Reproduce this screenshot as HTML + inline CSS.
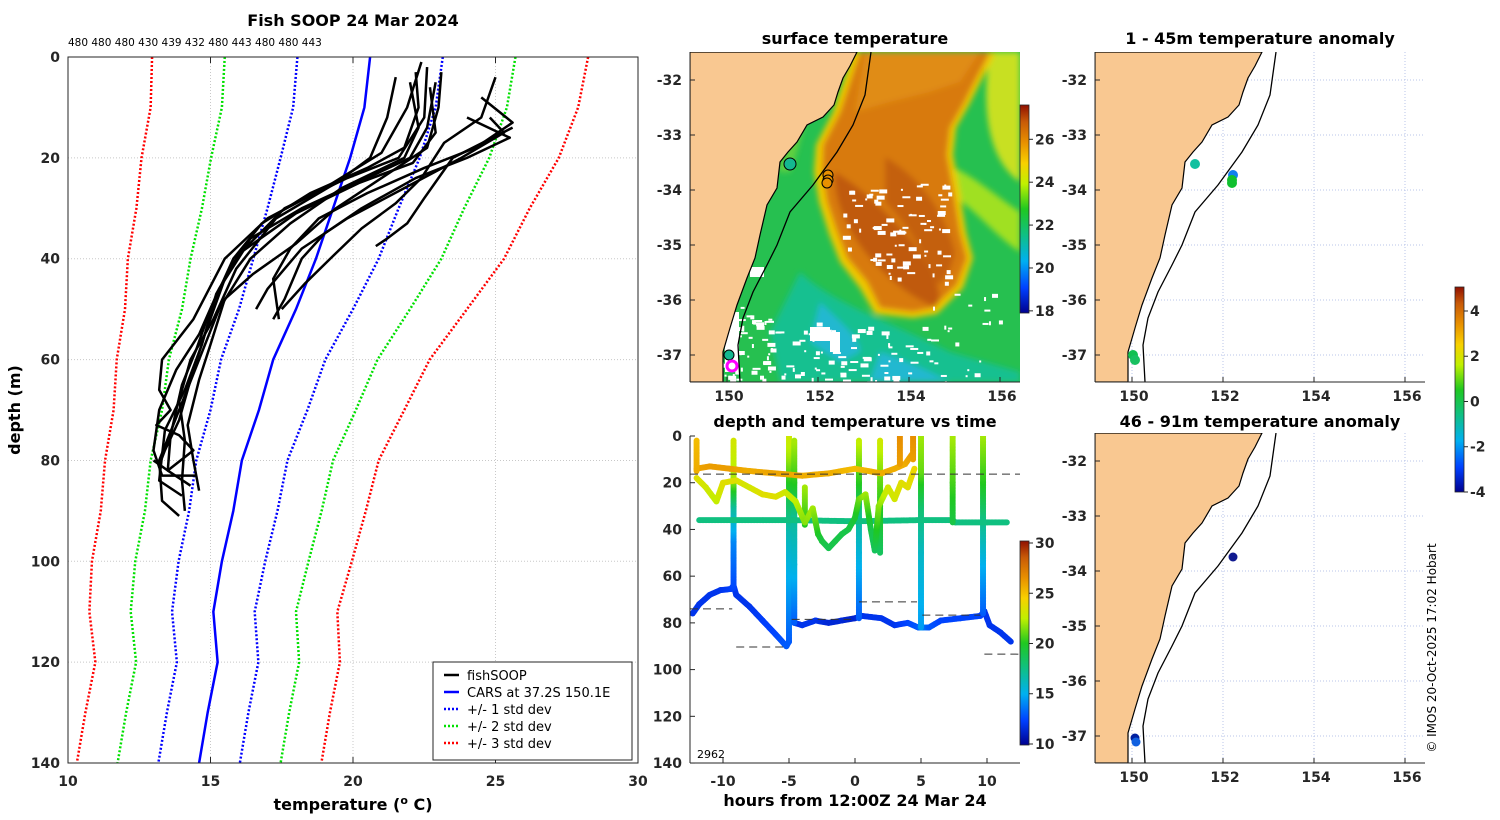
<!DOCTYPE html>
<html><head><meta charset="utf-8"><style>
html,body{margin:0;padding:0;background:#fff;}
svg{display:block;font-family:"DejaVu Sans","Liberation Sans",sans-serif;}
.tk{font-size:14px;font-weight:bold;fill:#262626;}
.ttl{font-size:16px;font-weight:bold;fill:#000;}
</style></head><body>
<svg id="fig" width="1500" height="820" viewBox="0 0 1500 820">
<defs>
<clipPath id="cp1"><rect x="68" y="57" width="570" height="706"/></clipPath>
<clipPath id="cpm"><rect x="0" y="0" width="330" height="330"/></clipPath>
<clipPath id="cpt"><rect x="690" y="436" width="330" height="327"/></clipPath>
<filter id="blur3"><feGaussianBlur stdDeviation="3"/></filter>
<linearGradient id="gSST" x1="0" y1="1" x2="0" y2="0">
<stop offset="0" stop-color="#00008f"/><stop offset="0.12" stop-color="#0040ff"/><stop offset="0.25" stop-color="#00b0f0"/><stop offset="0.38" stop-color="#10c080"/><stop offset="0.5" stop-color="#20c820"/><stop offset="0.62" stop-color="#c0f000"/><stop offset="0.72" stop-color="#f8d000"/><stop offset="0.82" stop-color="#e89000"/><stop offset="0.92" stop-color="#c85a08"/><stop offset="1" stop-color="#901000"/></linearGradient>
</defs>
<g id="root"></g>
</svg>
<script>
// ---------- data ----------
const depthLevels=[0,10,20,30,40,50,60,70,80,90,100,110,120,130,140];
const carsTemp=[20.6,20.4,19.9,19.3,18.7,18.0,17.2,16.7,16.1,15.8,15.4,15.1,15.25,14.9,14.6];
const carsStd=[2.55,2.5,2.44,2.3,2.2,2.0,1.83,1.7,1.6,1.55,1.52,1.45,1.43,1.43,1.43];
const profiles=[
[[22.2,3],[22.3,10],[21.8,18],[20.5,22],[18.5,27],[16.8,33],[15.8,40],[15.0,50],[14.5,58],[14.0,65],[13.6,75],[13.5,82],[14.3,85]],
[[22.6,2],[22.5,12],[21.6,20],[19.8,24],[17.6,30],[16.2,38],[15.3,46],[14.6,55],[13.8,62],[13.2,70],[13.0,78],[13.3,83],[14.5,83]],
[[21.5,4],[21.2,12],[20.6,20],[19.4,25],[17.3,32],[15.9,42],[15.1,52],[14.3,60],[13.9,68],[14.1,76],[14.0,84],[14.1,90]],
[[22.9,5],[22.6,14],[22.0,20],[20.5,24],[18.2,30],[16.4,36],[15.5,44],[14.8,55],[14.3,64],[13.9,72],[13.4,78],[13.2,81]],
[[22.4,1],[21.9,10],[21.0,19],[19.0,26],[17.0,32],[15.5,40],[14.4,52],[13.3,60],[13.2,66],[13.6,70],[13.1,73],[13.9,75],[14.4,78],[13.5,82],[13.0,80]],
[[24.5,8],[25.6,13],[24.3,18],[22.5,22],[20.5,27],[18.8,32],[17.8,38],[17.2,44],[17.4,52]],
[[24.0,12],[25.5,16],[24.0,20],[22.2,24],[20.3,30],[19.0,35],[18.2,40],[17.6,48],[17.2,52]],
[[25.6,14],[23.5,20],[23.0,24],[22.5,28],[21.9,33],[21.2,36],[20.8,37.5]],
[[25.0,4],[24.5,12],[23.2,17],[22.4,24],[21.5,29],[20.3,34],[19.2,40],[18.3,45],[17.5,50]],
[[23.1,3],[23.0,10],[22.6,18],[21.0,24],[19.4,30],[18.0,37],[16.5,43],[15.5,48],[15.0,57],[14.6,64],[14.2,73],[14.4,80],[14.6,86]],
[[22.0,5],[22.3,14],[21.8,20],[19.6,26],[17.8,33],[16.4,40],[15.3,50],[14.6,60],[13.9,70],[13.2,80],[13.3,88],[13.9,91]],
[[24.8,12],[25.3,15],[23.8,20],[21.8,26],[19.8,32],[18.2,38],[17.0,46],[16.6,50]],
[[22.7,6],[22.9,15],[22.1,21],[20.2,25],[18.0,31],[16.0,39],[15.2,47],[14.7,57],[14.1,66],[13.4,74],[13.2,84],[14.0,87]]
];
const topCounts=["480","480","480","430","439","432","480","443","480","480","443"];
const xTicks1=[10,15,20,25,30];
const yTicks1=[0,20,40,60,80,100,120,140];
// time panel tracks [hour, depth, temp]
const tracks=[
[[-12.3,76,12],[-11.8,72,12],[-11,68,12],[-10.2,66,12],[-9.4,65.5,12.3],[-9.2,64,12.5],[-9.0,68,12],[-8,73,12],[-7,79,12.3],[-6,85,12.5],[-5.2,90,13],[-5.0,88,13]],
[[-4.6,80,12],[-4,81,12],[-3,79,12],[-2,80,11.5],[-1,79,11.5],[0,78,11.3],[0.5,77,12],[2,78,12],[3,81,12],[4,80,12.5],[4.8,82,13],[5.1,82,14],[5.6,82,13],[6.5,79,12.5],[8,78,12.5],[9.5,77,12.5],[9.8,75,12],[10.2,81,12],[11,84,12],[11.8,88,12]],
[[-9.2,65,12.5],[-9.2,45,14],[-9.2,30,17],[-9.2,18,22],[-9.2,2,23]],
[[-5.0,88,13],[-5.0,60,15],[-5.0,40,16.5],[-5.0,25,19],[-5.0,8,22],[-5.0,-2,23]],
[[-4.6,80,13],[-4.6,55,15.5],[-4.6,35,17],[-4.6,20,20],[-4.6,2,22]],
[[0.3,78,13],[0.3,50,15.5],[0.3,35,17],[0.3,20,20],[0.3,2,22.5]],
[[5.0,82,14.5],[5.0,50,16],[5.0,30,18],[5.0,15,21],[5.0,-2,22]],
[[9.7,76,13],[9.7,55,15],[9.7,35,17.5],[9.7,20,20],[9.7,-1,22]],
[[-11.8,36,17.6],[-5,36,17.6],[0,36.5,17.6],[5,36,17.6],[7.4,36,17.6],[7.6,37,17.6],[10,37,17.6],[11.5,37,17.6]],
[[7.4,37,19],[7.4,20,20.5],[7.4,0,22]],
[[1.9,2,23],[1.9,20,21],[1.9,50,18.5]],
[[-3.8,22,22],[-3.8,38,20]],
[[-12,14,25.8],[-11,13,26],[-9.5,14,26],[-8,15,25.5],[-6,16,25.8],[-4,17,25.5],[-2,16,25.5],[0,14,25],[2,16,25.5],[3,14,25.5],[3.8,12,25.5],[4.3,8,26]],
[[-12,2,25],[-12,15,25.5]],
[[3.4,0,26.5],[3.4,12,26]],
[[4.4,0,26.5],[4.4,10,26]],
[[-12,18,23.5],[-11.3,22,23],[-10.5,28,22.5],[-10,20,23.5],[-9,19,23.5],[-8,22,23],[-7,25,23.5],[-6,26,23.5],[-5.3,24,23],[-4.5,28,22.5],[-3.8,37,21.5],[-3.2,31,22],[-2.8,42,20],[-2.5,45,19.2],[-2,48,18.8],[-1.5,45,19],[-1,42,19],[-0.5,40,19],[0,35,19.5],[0.3,27,21],[0.8,25,22],[1.2,40,19],[1.5,49,18.5],[1.8,30,21.5],[2.5,22,23],[3,27,23],[3.5,20,23.5],[4,22,23.5],[4.5,14,24]]
];
const dashedLines=[[-12.5,12.5,16.3],[-12.5,-9.3,74],[-9.0,-5.2,90.3],[-4.8,-0.3,78.5],[0.3,4.7,71],[5.1,9.5,76.7],[9.8,12.5,93.4]];
const xTicksT=[-10,-5,0,5,10];
const yTicksT=[0,20,40,60,80,100,120,140];
const sstTicks=[18,20,22,24,26];
const tempTicks=[10,15,20,25,30];
const anomTicks=[-4,-2,0,2,4];
const lonTicks=[150,152,154,156];
const latTicks=[-32,-33,-34,-35,-36,-37];

// ---------- helpers ----------
const NS="http://www.w3.org/2000/svg";
const root=document.getElementById('root');
function mk(tag,attrs,parent){const e=document.createElementNS(NS,tag);for(const k in attrs)e.setAttribute(k,attrs[k]);(parent||root).appendChild(e);return e;}
function txt(x,y,s,cls,anchor,parent,extra){const e=mk('text',Object.assign({x:x,y:y,'class':cls,'text-anchor':anchor||'middle'},extra||{}),parent);e.textContent=s;return e;}
const stops=[[0,[0,0,143]],[0.12,[0,64,255]],[0.25,[0,176,240]],[0.38,[16,192,128]],[0.5,[32,200,32]],[0.62,[192,240,0]],[0.72,[248,208,0]],[0.82,[232,144,0]],[0.92,[200,90,8]],[1,[144,16,0]]];
function cmap(v){v=Math.max(0,Math.min(1,v));for(let i=1;i<stops.length;i++){if(v<=stops[i][0]){const a=stops[i-1],b=stops[i],f=(v-a[0])/(b[0]-a[0]);const c=a[1].map((x,j)=>Math.round(x+(b[1][j]-x)*f));return 'rgb('+c.join(',')+')';}}return 'rgb(144,16,0)';}

// ---------- panel 1: profiles ----------
const px=t=>68+(t-10)*28.5, py=d=>57+d*5.043;
const p1=mk('g',{});


const t1=txt(353,26,'Fish SOOP 24 Mar 2024','ttl','middle',p1);


const tc=txt(68,46,topCounts.join(' '),'', 'start',p1,{'font-size':'10.5','fill':'#000'});


xTicks1.forEach(v=>{mk('line',{x1:px(v),x2:px(v),y1:57,y2:763,stroke:'#c8c8c8','stroke-dasharray':'1,2','stroke-width':1},p1);
const l=txt(px(v),786,String(v),'tk','middle',p1);

});
yTicks1.forEach(v=>{mk('line',{x1:68,x2:638,y1:py(v),y2:py(v),stroke:'#c8c8c8','stroke-dasharray':'1,2','stroke-width':1},p1);
const l=txt(60,py(v)+5,String(v),'tk','end',p1);

});
const pc=mk('g',{'clip-path':'url(#cp1)'},p1);
[[3,'#ff0000'],[2,'#00e000'],[1,'#0000ff']].forEach(([k,c])=>{[-1,1].forEach(s=>{
const pts=depthLevels.map((d,i)=>px(carsTemp[i]+s*k*carsStd[i])+','+py(d)).join(' ');
const pl=mk('polyline',{points:pts,fill:'none',stroke:c,'stroke-width':2.5,'stroke-dasharray':'2,2'},pc);

});});
const cl=mk('polyline',{points:depthLevels.map((d,i)=>px(carsTemp[i])+','+py(d)).join(' '),fill:'none',stroke:'#0000ff','stroke-width':2.5},pc);


profiles.forEach(p=>{const pl=mk('polyline',{points:p.map(q=>px(q[0])+','+py(q[1])).join(' '),fill:'none',stroke:'#000','stroke-width':2.5,'stroke-linejoin':'round'},pc);

});
mk('rect',{x:68,y:57,width:570,height:706,fill:'none',stroke:'#262626','stroke-width':1},p1);
xTicks1.forEach(v=>{mk('line',{x1:px(v),x2:px(v),y1:763,y2:757,stroke:'#262626'},p1);mk('line',{x1:px(v),x2:px(v),y1:57,y2:63,stroke:'#262626'},p1);});
const xl=mk('text',{x:353,y:810,'class':'ttl','text-anchor':'middle','fill':'#262626'},p1);
xl.innerHTML='temperature (<tspan font-size="11" dy="-6">o</tspan><tspan dy="6"> C)</tspan>';


const yl=txt(20,410,'depth (m)','ttl','middle',p1,{transform:'rotate(-90 20 410)'});


// legend
const lg=mk('g',{},p1);


mk('rect',{x:433,y:662,width:199,height:98,fill:'#fff',stroke:'#262626','stroke-width':1},lg);
[['fishSOOP','#000',''],['CARS at 37.2S 150.1E','#0000ff',''],['+/- 1 std dev','#0000ff','2,2'],['+/- 2 std dev','#00e000','2,2'],['+/- 3 std dev','#ff0000','2,2']].forEach((e,i)=>{
const y=675+i*17;const g=mk('g',{},lg);


mk('line',{x1:444,x2:459,y1:y,y2:y,stroke:e[1],'stroke-width':2.5,'stroke-dasharray':e[2]||'none'},g);
txt(467,y+5,e[0],'','start',g,{'font-size':'13','fill':'#000'});});

// ---------- maps ----------
const coast="M167,0 L160,14 L153,26 L148,40 L144,53 L133,65 L117,73 L107,90 L98,100 L90,110 L87,136 L77,153 L70,183 L65,206 L57,226 L47,253 L40,276 L33,300 L33,330 L0,330 L0,0 Z";
const shelf="M181,0 L175,43 L163,73 L147,100 L123,133 L100,160 L87,193 L77,213 L63,240 L53,266 L48,293 L50,330";
function drawMap(ox,oy,name,sst){
const g=mk('g',{transform:'translate('+ox+','+oy+')'});


const c=mk('g',{'clip-path':'url(#cpm)'},g);
if(sst){
mk('rect',{x:0,y:0,width:330,height:330,fill:'#26c050'},c);
const sb=mk('g',{filter:'url(#blur3)'},c);
mk('path',{d:'M110,220 C140,250 200,270 260,300 L330,320 L330,330 L90,330 L80,280 Z',fill:'#18c090'},sb);
mk('path',{d:'M130,250 C150,270 170,285 170,300 L150,310 L120,290 Z',fill:'#20b8d0'},sb);
mk('path',{d:'M190,300 C220,310 240,320 260,330 L180,330 Z',fill:'#20b8d0'},sb);
mk('path',{d:'M300,0 C290,60 300,110 330,130 L330,0 Z',fill:'#c8e020'},sb);
mk('path',{d:'M250,110 C280,120 300,140 330,160 L330,200 C300,180 280,150 255,140 Z',fill:'#a0e020'},sb);
mk('path',{d:'M105,60 C100,80 95,100 88,120 L100,120 C108,100 112,80 118,60 Z',fill:'#60d040'},sb);
mk('path',{d:'M163,0 L143,60 L126,93 L124,120 L129,150 L139,182 L150,210 L170,236 L185,262 L223,266 L247,262 L273,236 L283,206 L276,180 L269,136 L263,103 L266,76 L279,53 L289,33 L306,0 Z',fill:'#f0c800'},sb);
mk('path',{d:'M170,0 L150,60 L133,93 L132,120 L137,150 L147,180 L157,206 L177,230 L190,256 L223,260 L243,256 L267,233 L277,206 L270,180 L263,136 L257,103 L260,76 L273,53 L283,33 L300,0 Z',fill:'#d87a0a'},sb);
mk('path',{d:'M175,0 L165,60 L200,50 L240,40 L270,30 L290,0 Z',fill:'#e08c14'},sb);
mk('path',{d:'M145,120 C170,135 200,160 230,200 C245,225 255,245 245,255 C220,245 195,225 175,200 C155,175 143,145 145,120 Z',fill:'#c05a08'},sb);
mk('path',{d:'M195,105 C230,125 255,160 265,200 C260,225 252,232 245,232 C235,200 215,170 195,150 Z',fill:'#c4600a'},sb);
// white cloud speckles (decorative texture)
let s=12345;const rnd=()=>{s=(s*16807)%2147483647;return s/2147483647;};
const wg=mk('g',{fill:'#fff'},c);
const zones=[[150,130,110,70,60],[180,200,80,30,25],[30,250,50,80,60],[80,270,120,60,50],[150,290,160,40,30],[230,230,80,60,15]];
zones.forEach(z=>{for(let i=0;i<z[4];i++){const w=2+Math.floor(rnd()*4)*2,h=2+Math.floor(rnd()*2)*2;mk('rect',{x:z[0]+rnd()*z[2],y:z[1]+rnd()*z[3],width:w,height:h},wg);}});
mk('rect',{x:60,y:215,width:14,height:10,fill:'#fff'},c);
mk('rect',{x:120,y:275,width:20,height:14,fill:'#fff'},c);
mk('rect',{x:140,y:280,width:10,height:20,fill:'#fff'},c);
mk('rect',{x:35,y:260,width:14,height:60,fill:'#fff'},c);
} else {
latTicks.forEach(v=>mk('line',{x1:0,x2:330,y1:28+(-32-v)*55,y2:28+(-32-v)*55,stroke:'#b8c4e8','stroke-dasharray':'1,2'},c));
lonTicks.forEach(v=>mk('line',{x1:37+(v-150)*45.5,x2:37+(v-150)*45.5,y1:0,y2:330,stroke:'#b8c4e8','stroke-dasharray':'1,2'},c));
}
const land=mk('path',{d:coast,fill:'#f9c891',stroke:'#000','stroke-width':1.2},c);


const sh=mk('path',{d:shelf,fill:'none',stroke:'#000','stroke-width':1.3},c);


mk('line',{x1:0,x2:330,y1:330,y2:330,stroke:'#262626'},g);
mk('line',{x1:0,x2:0,y1:0,y2:330,stroke:'#262626'},g);
latTicks.forEach(v=>{const y=28+(-32-v)*55;mk('line',{x1:0,x2:5,y1:y,y2:y,stroke:'#262626'},g);
const l=txt(-8,y+5,String(v),'tk','end',g);

});
lonTicks.forEach(v=>{const x=37+(v-150)*45.5;mk('line',{x1:x,x2:x,y1:330,y2:325,stroke:'#262626'},g);
const l=txt(x+2,349,String(v),'tk','middle',g);

});
return g;}
const m1=drawMap(690,52,'surface-temperature-map',true);
const m2=drawMap(1095,52,'anomaly-map-shallow',false);
const m3=drawMap(1095,433,'anomaly-map-deep',false);
[[100,112,'#14b890','#000',6],[138,123,'#e89000','#000',5],[138,128,'#e89000','#000',5],[137,131,'#e89000','#000',5],[39,303,'#14b890','#000',5]].forEach(d=>{const c=mk('circle',{cx:d[0],cy:d[1],r:d[4],fill:d[2],stroke:d[3]},m1);

});
const mg=mk('circle',{cx:42,cy:314,r:5,fill:'none',stroke:'#ff00ff','stroke-width':3},m1);


[[100,112,'#10c0a0'],[138,123,'#1080f0'],[137,128,'#10c030'],[137,131,'#10c030'],[38,303,'#10c050'],[40,308,'#18c060']].forEach(d=>{const c=mk('circle',{cx:d[0],cy:d[1],r:5,fill:d[2]},m2);

});
[[138,124,'#101a90'],[40,305,'#0020a0'],[41,309,'#1060e0']].forEach(d=>{const c=mk('circle',{cx:d[0],cy:d[1],r:4.5,fill:d[2]},m3);

});
[['surface temperature',855,44],['1 - 45m temperature anomaly',1260,44],['46 - 91m temperature anomaly',1260,427]].forEach(t=>{const e=txt(t[1],t[2],t[0],'ttl','middle');

});

// ---------- colorbars ----------
function colorbar(x,y0,y1,vmin,vmax,ticks,name){
const g=mk('g',{});


mk('rect',{x:x,y:y0,width:9,height:y1-y0,fill:'url(#gSST)',stroke:'#262626','stroke-width':0.8},g);
ticks.forEach(v=>{const y=y1-(v-vmin)/(vmax-vmin)*(y1-y0);mk('line',{x1:x+9,x2:x+13,y1:y,y2:y,stroke:'#262626'},g);
const l=txt(x+15,y+5,String(v),'tk','start',g,{'font-size':'13'});

});}
colorbar(1020,105,313,17.9,27.6,sstTicks,'sst-colorbar');
colorbar(1020,541,745,9.9,30.2,tempTicks,'time-temp-colorbar');
colorbar(1455,287,492,-4.0,5.06,anomTicks,'anomaly-colorbar');

// ---------- time panel ----------
const tx=h=>723+(h+10)*13.2, ty=d=>436+d*2.336;
const tp=mk('g',{});


const tt=txt(855,427,'depth and temperature vs time','ttl','middle',tp);


const tcg=mk('g',{'clip-path':'url(#cpt)'},tp);
tracks.forEach(tr=>{const g=mk('g',{},tcg);


for(let i=1;i<tr.length;i++){const a=tr[i-1],b=tr[i];const x0=tx(a[0]),y0=ty(a[1]),x1=tx(b[0]),y1=ty(b[1]);const n=Math.max(1,Math.ceil(Math.hypot(x1-x0,y1-y0)/1.5));
for(let k=0;k<=n;k++){const f=k/n;mk('circle',{cx:x0+(x1-x0)*f,cy:y0+(y1-y0)*f,r:3,fill:cmap((a[2]+(b[2]-a[2])*f-10)/20)},g);}}});
dashedLines.forEach(d=>{const l=mk('line',{x1:tx(d[0]),x2:tx(d[1]),y1:ty(d[2]),y2:ty(d[2]),stroke:'#333','stroke-width':1,'stroke-dasharray':'8,5'},tcg);

});
mk('line',{x1:690,x2:690,y1:436,y2:763,stroke:'#262626'},tp);
mk('line',{x1:690,x2:1020,y1:763,y2:763,stroke:'#262626'},tp);
xTicksT.forEach(v=>{mk('line',{x1:tx(v),x2:tx(v),y1:763,y2:758,stroke:'#262626'},tp);
const l=txt(tx(v),786,String(v),'tk','middle',tp);

});
yTicksT.forEach(v=>{mk('line',{x1:690,x2:695,y1:ty(v),y2:ty(v),stroke:'#262626'},tp);
const l=txt(682,ty(v)+5,String(v),'tk','end',tp);

});
const sm=txt(697,758,'2962','','start',tp,{'font-size':'11','fill':'#000'});


const tx2=txt(855,806,'hours from 12:00Z 24 Mar 24','ttl','middle',tp,{fill:'#262626'});


const cp=txt(1436,648,'© IMOS 20-Oct-2025 17:02 Hobart','','middle',null,{'font-size':'12',fill:'#000',transform:'rotate(-90 1436 648)'});


</script>
</body></html>
